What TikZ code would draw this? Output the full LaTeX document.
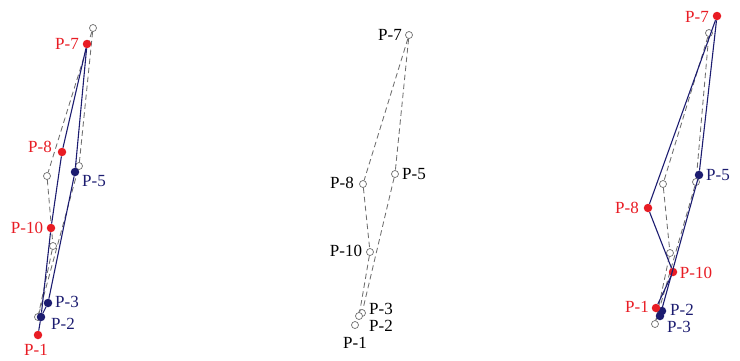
\documentclass[tikz,border=0pt]{standalone}
\usepackage{fontspec}
\setmainfont{Liberation Serif}
\definecolor{ptred}{RGB}{232,28,36}
\definecolor{ptblue}{RGB}{28,28,112}
\definecolor{ptgray}{RGB}{110,110,110}

\begin{document}
\begin{tikzpicture}[
  x=1pt, y=-1pt,
  every node/.style={font=\fontsize{17}{17}\selectfont, inner sep=0pt},
  open/.style={circle, draw=ptgray, fill=white, line width=0.7pt, minimum size=7pt},
  redpt/.style={circle, fill=ptred, minimum size=8.5pt},
  bluept/.style={circle, fill=ptblue, minimum size=8.5pt},
  redlbl/.style={text=ptred},
  bluelbl/.style={text=ptblue},
  lbl/.style={text=black},
  ref/.style={draw=ptgray, dashed, dash pattern=on 5.5pt off 3.5pt, line width=0.85pt},
  def/.style={draw=ptblue, line width=1.1pt}
]
  \useasboundingbox (0,0) rectangle (740,360);

  % left panel: undeformed
  \node[open] (a7) at (93,28) {};
  \node[open] (a8) at (47,176) {};
  \node[open] (a5) at (79,166) {};
  \node[open] (a10) at (53,246) {};
  \node[open] (a1) at (38,317) {};
  \draw[ref] (a7) -- (a8) -- (a10) -- (a1);
  \draw[ref] (a7) -- (a5) -- (a1);
  % left panel: deformed
  \node[redpt] (l7) at (87,44) {};
  \node[redpt] (l8) at (62,152) {};
  \node[bluept] (l5) at (75,172) {};
  \node[redpt] (l10) at (51,228) {};
  \node[bluept] (l3) at (48,303) {};
  \node[bluept] (l2) at (41,317) {};
  \node[redpt] (l1) at (38,335) {};
  \draw[def] (l7) -- (l8) -- (l10) -- (l2) -- (l1);
  \draw[def] (l7) -- (l5) -- (l3) -- (l2);
  \node[redlbl] (tl7) at (67,44) {P-7};
  \node[redlbl] (tl8) at (40,147) {P-8};
  \node[bluelbl] (tl5) at (94,181) {P-5};
  \node[redlbl] (tl10) at (27,228) {P-10};
  \node[bluelbl] (tl3) at (67,302) {P-3};
  \node[bluelbl] (tl2) at (63,324) {P-2};
  \node[redlbl] (tl1) at (36,350) {P-1};

  % middle panel
  \node[open] (m7) at (409,35) {};
  \node[open] (m8) at (363,184) {};
  \node[open] (m5) at (395,174) {};
  \node[open] (m10) at (370,252) {};
  \node[open] (m3) at (362,313) {};
  \node[open] (m2) at (359,316) {};
  \node[open] (m1) at (355,325) {};
  \draw[ref] (m7) -- (m8) -- (m10) -- (m2);
  \draw[ref] (m7) -- (m5) -- (m3);
  \node[lbl] (tm7) at (390,35) {P-7};
  \node[lbl] (tm8) at (342,183) {P-8};
  \node[lbl] (tm5) at (414,174) {P-5};
  \node[lbl] (tm10) at (346,251) {P-10};
  \node[lbl] (tm3) at (381,309) {P-3};
  \node[lbl] (tm2) at (381,326) {P-2};
  \node[lbl] (tm1) at (355,343) {P-1};

  % right panel: undeformed
  \node[open] (b7) at (709,33) {};
  \node[open] (b8) at (663,184) {};
  \node[open] (b5) at (696,182) {};
  \node[open] (b10) at (670,253) {};
  \node[open] (b1) at (655,324) {};
  \draw[ref] (b7) -- (b8) -- (b10) -- (b1);
  \draw[ref] (b7) -- (b5) -- (b1);
  % right panel: deformed
  \node[redpt] (r7) at (717,16) {};
  \node[bluept] (r5) at (699,175) {};
  \node[redpt] (r8) at (648,208) {};
  \node[redpt] (r10) at (673,272) {};
  \node[bluept] (r3) at (660,316) {};
  \node[bluept] (r2) at (662,311) {};
  \node[redpt] (r1) at (656,308) {};
  \draw[def] (r7) -- (r8) -- (r10) -- (r1);
  \draw[def] (r7) -- (r5) -- (r3);
  \node[redlbl] (tr7) at (697,17) {P-7};
  \node[bluelbl] (tr5) at (718,175) {P-5};
  \node[redlbl] (tr8) at (627,208) {P-8};
  \node[redlbl] (tr10) at (696,273) {P-10};
  \node[redlbl] (tr1) at (637,307) {P-1};
  \node[bluelbl] (tr2) at (682,310) {P-2};
  \node[bluelbl] (tr3) at (679,327) {P-3};
\end{tikzpicture}
\end{document}
